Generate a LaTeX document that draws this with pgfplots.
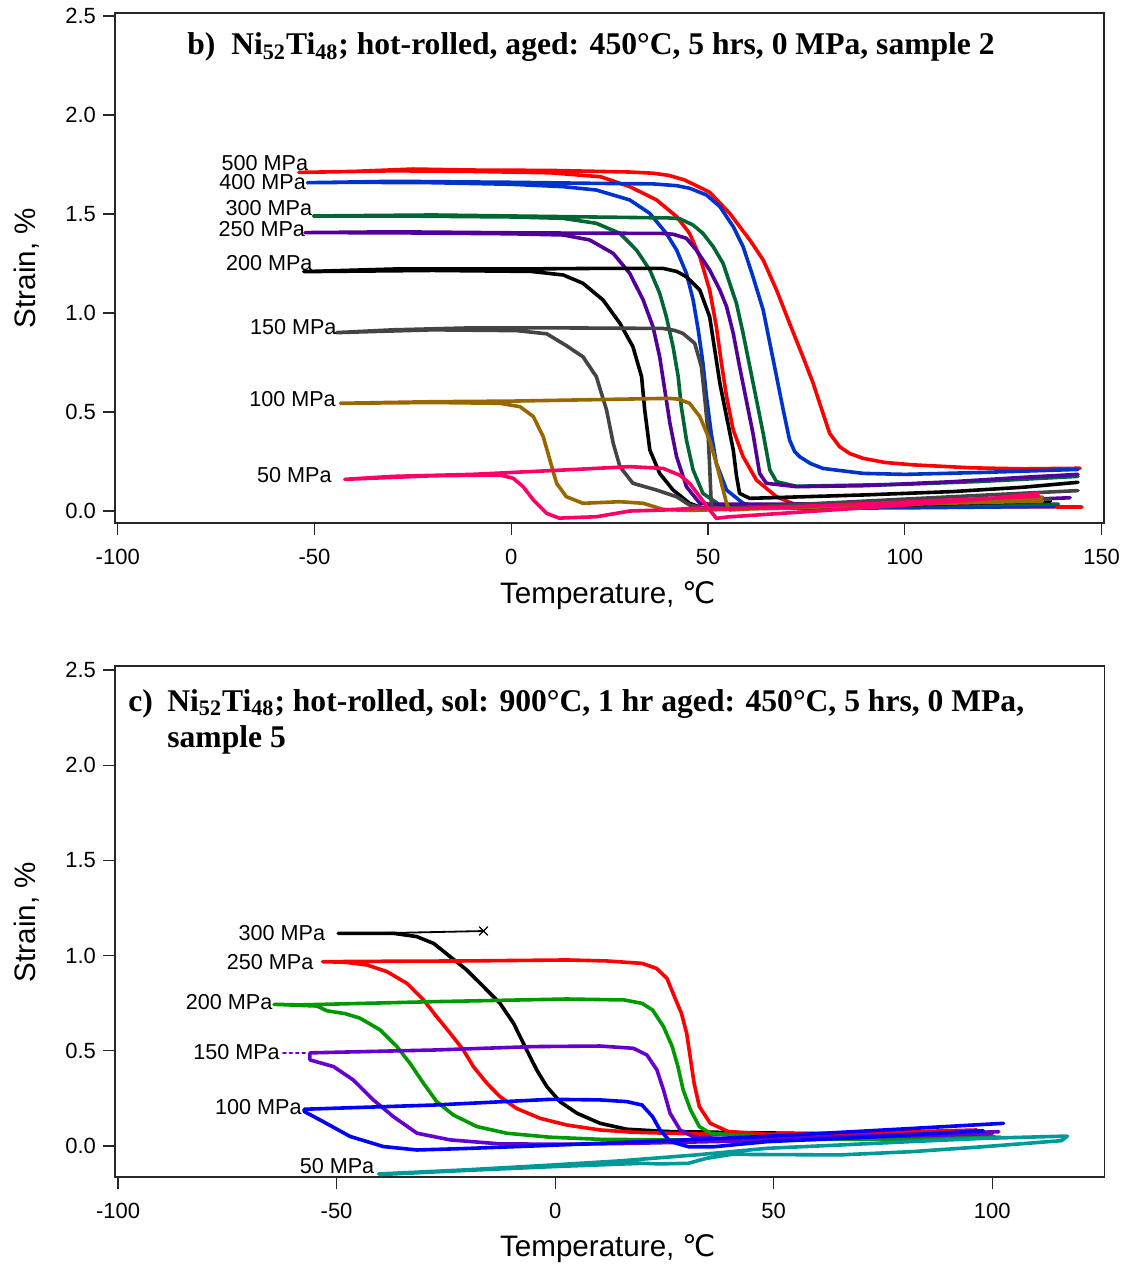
\documentclass[border=0pt]{standalone}
\usepackage{fontspec}
\setmainfont{Liberation Sans}
\newfontfamily\timesfont{Liberation Serif}
\newfontfamily\dejavu{DejaVu Sans}
\usepackage{pgfplots}
\pgfplotsset{compat=1.18}
\definecolor{r5}{HTML}{FF0000}
\definecolor{b4}{HTML}{0033CC}
\definecolor{g3}{HTML}{006633}
\definecolor{p25}{HTML}{520099}
\definecolor{gr}{HTML}{444444}
\definecolor{br}{HTML}{996600}
\definecolor{pk}{HTML}{FF0066}
\definecolor{cg}{HTML}{009900}
\definecolor{cp}{HTML}{6600CC}
\definecolor{cb}{HTML}{0000FF}
\definecolor{ct}{HTML}{009999}
\pgfplotsset{myax/.style={scale only axis, axis line style={line width=0.75pt, black!85},
  tick align=outside, xtick pos=bottom, ytick pos=left, major tick length=6pt,
  tick style={line width=0.6pt, black!85},
  ticklabel style={font=\fontsize{11}{13}\selectfont},
  xticklabel style={yshift=-3.5pt},
  /pgf/number format/assume math mode=true,
  yticklabel style={/pgf/number format/.cd, fixed, fixed zerofill, precision=1},
  ytick={0,0.5,1,1.5,2,2.5},
  every axis plot/.append style={line width=1.8pt, line join=round, line cap=round},
 }}
\tikzset{lab/.style={font=\fontsize{10.8}{12}\selectfont, inner sep=0pt},
  ttl/.style={anchor=base west, inner sep=0pt, font=\timesfont\bfseries\fontsize{15.8}{19}\selectfont}}
\begin{document}
\begin{tikzpicture}
\path[use as bounding box] (0pt,0pt) rectangle (561pt,-633pt);
% ---------------- top panel ----------------
\begin{axis}[myax, at={(57.5pt,-261.5pt)}, anchor=south west, width=494.5pt, height=255pt,
  xmin=-100.7, xmax=150.6, ymin=-0.0606, ymax=2.515, xtick={-100,-50,0,50,100,150}]
% 500 MPa
\addplot[r5] coordinates {(145,0.02) (120,0.022) (100,0.022) (82.3,0.022) (72.4,0.030) (67.4,0.072) (62.3,0.156) (58.9,0.274) (56.4,0.409) (54.7,0.577) (53.4,0.746) (52.1,0.931) (50.4,1.116) (47.9,1.284) (45.3,1.402) (42.0,1.487) (36.9,1.571) (30.1,1.638) (22.7,1.688) (10,1.708) (-10,1.715) (-30,1.718) (-54,1.71)
 (-40,1.715) (-25,1.727) (-10,1.722) (10,1.72) (30,1.712) (36,1.706) (40,1.695) (44,1.672) (50.4,1.610) (55.5,1.503) (60.6,1.369) (64.0,1.268) (67.4,1.116) (70.7,0.948) (74.1,0.779) (76.7,0.645) (79.2,0.493) (80.9,0.392) (83.4,0.325) (86,0.290) (89.4,0.266) (95,0.245) (102.2,0.233) (117,0.218) (130,0.213) (144.5,0.216)};
% 400 MPa
\addplot[b4] coordinates {(138,0.023) (100,0.016) (75,0.014) (64.0,0.014) (58.9,0.039) (54.7,0.106) (52.1,0.241) (50.8,0.392) (49.6,0.577) (48.7,0.746) (47.5,0.914) (46.2,1.066) (44.5,1.200) (42.0,1.318) (39.4,1.402) (35.2,1.503) (30.1,1.571) (21.6,1.621) (13.2,1.638) (0,1.650) (-20,1.658) (-40,1.66) (-51.8,1.658)
 (-30,1.665) (0,1.66) (20,1.655) (36,1.652) (42,1.643) (45.3,1.630) (49.6,1.596) (53.0,1.537) (56.4,1.436) (58.9,1.335) (61.4,1.184) (64.0,1.015) (65.7,0.847) (67.4,0.679) (69.1,0.510) (70.7,0.359) (72,0.300) (73.3,0.274) (76,0.240) (79.2,0.215) (89.4,0.190) (100,0.185) (120,0.195) (144,0.21)};
% 300 MPa
\addplot[g3] coordinates {(139,0.035) (100,0.03) (70,0.03) (53.0,0.030) (48.7,0.089) (46.2,0.207) (44.5,0.359) (43.2,0.527) (42.4,0.679) (41.1,0.830) (39.4,0.981) (37.7,1.100) (35.2,1.217) (31.8,1.318) (27.6,1.402) (21.6,1.453) (13.2,1.478) (0,1.485) (-30,1.49) (-50.3,1.49)
 (-20,1.495) (0,1.49) (20,1.485) (40,1.480) (42.8,1.476) (46.2,1.444) (48.7,1.402) (51.3,1.335) (53.8,1.251) (55.5,1.150) (57.2,1.049) (58.9,0.897) (60.6,0.729) (62.3,0.561) (64.0,0.392) (65.7,0.207) (67.4,0.148) (72.4,0.125) (100,0.135) (120,0.15) (144,0.175)};
% 250 MPa
\addplot[p25] coordinates {(142,0.067) (120,0.05) (100,0.04) (70,0.035) (50,0.035) (47.9,0.039) (44.5,0.123) (42.0,0.274) (40.3,0.443) (39.0,0.611) (37.7,0.779) (36.0,0.931) (33.5,1.066) (30.1,1.200) (25.9,1.301) (19.9,1.369) (13.2,1.394) (0,1.40) (-30,1.405) (-52.4,1.406)
 (-30,1.41) (0,1.405) (20,1.403) (38,1.402) (41.1,1.398) (44.5,1.377) (47.0,1.318) (50.4,1.217) (53.0,1.116) (54.7,1.032) (56.4,0.897) (58.0,0.729) (59.7,0.561) (61.4,0.392) (63.1,0.190) (64.8,0.140) (72.4,0.123) (90,0.128) (112,0.148) (130,0.17) (144,0.185)};
% 200 MPa
\addplot[black] coordinates {(137,0.05) (100,0.03) (60,0.015) (48.7,0.014) (45.3,0.039) (41.1,0.106) (37.7,0.190) (35.2,0.308) (33.9,0.510) (33.1,0.679) (30.9,0.830) (27.6,0.948) (23.3,1.066) (18.2,1.150) (13.2,1.192) (5,1.21) (-20,1.215) (-52.7,1.209)
 (-30,1.222) (0,1.222) (20,1.225) (38.6,1.225) (42,1.210) (44.5,1.183) (47.9,1.116) (50.4,0.981) (51.7,0.813) (53.0,0.645) (54.7,0.476) (56.4,0.308) (57.2,0.180) (58.0,0.089) (60.6,0.064) (89.4,0.081) (112,0.098) (130,0.12) (144,0.145)};
% 150 MPa
\addplot[gr] coordinates {(137,0.06) (100,0.035) (60,0.015) (49.6,0.014) (45.3,0.030) (42.0,0.072) (36.9,0.106) (30.9,0.140) (27.6,0.224) (25.9,0.342) (24.2,0.510) (21.6,0.679) (18.2,0.779) (14,0.835) (9.0,0.895) (1.35,0.911) (-20,0.915) (-44.4,0.901)
 (-30,0.915) (-10,0.925) (10,0.925) (38.6,0.922) (41.5,0.912) (43.6,0.897) (46.6,0.847) (48.3,0.729) (49.2,0.561) (50.0,0.392) (50.4,0.224) (50.8,0.039) (51.3,0.014) (60,0.02) (80,0.04) (100,0.06) (120,0.08) (144,0.103)};
% 100 MPa
\addplot[br] coordinates {(135,0.05) (100,0.035) (70,0.015) (55,0.008) (45,0.003) (38.6,0.008) (33.5,0.039) (27.6,0.047) (18.2,0.039) (14.0,0.072) (11.5,0.140) (9.8,0.258) (8.1,0.376) (5.6,0.477) (2.2,0.527) (-2.9,0.544) (-20,0.548) (-43.4,0.544)
 (-20,0.552) (0,0.555) (20,0.562) (40,0.569) (42.5,0.565) (45.3,0.544) (47.9,0.477) (50.4,0.359) (52.1,0.241) (53.4,0.140) (54.7,0.039) (55.5,0.005) (60,0.01) (80,0.025) (100,0.04) (120,0.055) (135,0.07)};
% 50 MPa
\addplot[pk] coordinates {(134,0.075) (100,0.045) (70,0.02) (55,0.01) (47.0,0.014) (38.6,0.005) (30.1,0.0) (21.6,-0.029) (13.2,-0.035) (12.3,-0.037) (9.0,-0.012) (5.6,0.056) (3.0,0.123) (0.5,0.165) (-2.9,0.182) (-20,0.178) (-42.3,0.160)
 (-30,0.175) (-10,0.185) (13.2,0.207) (30.1,0.224) (38.6,0.215) (42.8,0.181) (45.3,0.140) (47.9,0.072) (50.4,0.005) (52.1,-0.037) (55,-0.03) (70,-0.01) (100,0.03) (120,0.06) (134,0.089)};
\node[lab] at (axis cs:-62.6,1.758) {500 MPa};
\node[lab] at (axis cs:-63.2,1.660) {400 MPa};
\node[lab] at (axis cs:-61.6,1.529) {300 MPa};
\node[lab] at (axis cs:-63.4,1.426) {250 MPa};
\node[lab] at (axis cs:-61.5,1.254) {200 MPa};
\node[lab] at (axis cs:-55.4,0.931) {150 MPa};
\node[lab] at (axis cs:-55.6,0.564) {100 MPa};
\node[lab] at (axis cs:-55.1,0.182) {50 MPa};
\end{axis}
% ---------------- bottom panel ----------------
\begin{axis}[myax, at={(57.5pt,-588.5pt)}, anchor=south west, width=494.75pt, height=255.5pt,
  xmin=-100.7, xmax=125.7, ymin=-0.163, ymax=2.521, xtick={-100,-50,0,50,100}]
% 300 MPa
\addplot[black] coordinates {(102,0.045) (80,0.055) (60,0.065) (37.0,0.072) (25.6,0.076) (16.4,0.088) (10.3,0.119) (5.0,0.172) (1.1,0.233) (-1.9,0.312) (-4.2,0.399) (-6.5,0.504) (-9.5,0.644) (-12.6,0.749) (-16.4,0.837) (-20.2,0.924) (-24.0,0.994) (-27.8,1.064) (-31.7,1.100) (-37.0,1.117) (-49.6,1.117)};
\addplot[black, line width=0.9pt] coordinates {(-49.6,1.117) (-35,1.120) (-16.4,1.129)};
\addplot[black, line width=0.6pt, only marks, mark=x, mark size=3pt] coordinates {(-16.4,1.129)};
% 250 MPa
\addplot[r5] coordinates {(100,0.07) (70,0.06) (40,0.06) (25.6,0.067) (17.9,0.072) (10.3,0.084) (2.7,0.110) (-3.4,0.145) (-8.8,0.197) (-12.6,0.259) (-15.6,0.329) (-18.7,0.417) (-21.0,0.504) (-24.0,0.592) (-27.1,0.679) (-30.1,0.767) (-33.9,0.854) (-38.5,0.916) (-43.1,0.951) (-48,0.965) (-53.2,0.968)
 (-40,0.970) (-20,0.972) (2.7,0.977) (11.7,0.972) (19.9,0.959) (23.2,0.933) (25.6,0.880) (27.3,0.784) (28.9,0.697) (30.1,0.592) (30.9,0.469) (31.8,0.329) (33.0,0.207) (35.5,0.119) (39.6,0.076) (48.6,0.062) (73.2,0.07) (96.5,0.084)};
% 200 MPa
\addplot[cg] coordinates {(95,0.04) (70,0.035) (40,0.033) (25.6,0.032) (10.3,0.035) (-1.1,0.046) (-11.1,0.067) (-17.9,0.102) (-23.3,0.163) (-27.1,0.233) (-30.1,0.329) (-33.2,0.434) (-36.2,0.522) (-40.0,0.609) (-44.6,0.671) (-48,0.695) (-52.2,0.710) (-54.5,0.735) (-64.3,0.744)
 (-58.4,0.741) (-27.8,0.758) (2.7,0.772) (15.8,0.767) (19.9,0.749) (22.3,0.714) (24.8,0.627) (26.8,0.522) (28.1,0.417) (29.3,0.294) (31.0,0.189) (33.0,0.102) (35.5,0.067) (48.6,0.045) (81.4,0.049) (100,0.05)};
% 150 MPa
\addplot[cp, line width=1.2pt, dotted] coordinates {(-62.2,0.487) (-56.8,0.487)};
\addplot[cp] coordinates {(100,0.065) (70,0.045) (40,0.025) (17.9,0.014) (2.7,0.009) (-12.6,0.011) (-24.0,0.032) (-31.6,0.067) (-37.0,0.154) (-41.6,0.242) (-46.2,0.347) (-50.7,0.417) (-56.1,0.452) (-56.1,0.489)
 (-45,0.495) (-27.8,0.504) (-5.0,0.522) (10.3,0.525) (17.9,0.513) (21.0,0.478) (23.3,0.399) (24.8,0.294) (26.3,0.172) (28.6,0.084) (31.6,0.049) (40,0.035) (60,0.045) (80,0.06) (101.5,0.075)};
% 100 MPa
\addplot[cb] coordinates {(102.6,0.119) (80,0.09) (60,0.065) (46.9,0.049) (25.6,0.028) (10.3,0.014) (-5.0,0.0) (-20.2,-0.013) (-31.6,-0.021) (-39.3,-0.003) (-46.9,0.050) (-53.8,0.137) (-57.4,0.181) (-57.4,0.193)
 (-27.8,0.215) (-1.1,0.245) (10.3,0.242) (16.4,0.233) (19.9,0.215) (22.3,0.154) (24.0,0.084) (26.4,0.023) (30.5,-0.004) (36.3,-0.004) (48.6,0.023) (70,0.045) (98,0.08)};
% 50 MPa
\addplot[ct] coordinates {(-40.4,-0.147) (-20,-0.125) (-0.7,-0.10) (15,-0.078) (32.2,-0.047) (48.6,-0.012) (65.0,0.005) (81.4,0.023) (97.9,0.040) (117.2,0.052)
 (115.9,0.028) (97.9,-0.004) (81.4,-0.030) (65.0,-0.047) (40.4,-0.044) (34.6,-0.065) (30.5,-0.091) (24.0,-0.094) (19.9,-0.091) (0,-0.108) (-20,-0.128) (-40,-0.15)};
\node[lab] at (axis cs:-62.5,1.117) {300 MPa};
\node[lab] at (axis cs:-65.2,0.968) {250 MPa};
\node[lab] at (axis cs:-74.6,0.758) {200 MPa};
\node[lab] at (axis cs:-72.9,0.495) {150 MPa};
\node[lab] at (axis cs:-67.9,0.207) {100 MPa};
\node[lab] at (axis cs:-49.9,-0.108) {50 MPa};
\end{axis}
% titles and axis labels
\node[ttl] at (93.5pt,-27.3pt)
  {b)\ \ Ni\textsubscript{52}Ti\textsubscript{48}; hot-rolled, aged: 450°C, 5 hrs, 0 MPa, sample 2};
\node[ttl] at (64pt,-355.5pt) {c)};
\node[ttl] at (83.5pt,-355.5pt)
  {Ni\textsubscript{52}Ti\textsubscript{48}; hot-rolled, sol: 900°C, 1 hr aged: 450°C, 5 hrs, 0 MPa,};
\node[ttl] at (83.5pt,-373.8pt) {sample 5};
\node[font=\fontsize{14.8}{17}\selectfont, inner sep=0pt] at (304pt,-298pt) {Temperature, {\dejavu ℃}};
\node[font=\fontsize{14.8}{17}\selectfont, inner sep=0pt] at (304pt,-624.5pt) {Temperature, {\dejavu ℃}};
\node[font=\fontsize{14.8}{17}\selectfont, inner sep=0pt, rotate=90] at (13.5pt,-134pt) {Strain, \%};
\node[font=\fontsize{14.8}{17}\selectfont, inner sep=0pt, rotate=90] at (13.5pt,-461pt) {Strain, \%};
\end{tikzpicture}
\end{document}
